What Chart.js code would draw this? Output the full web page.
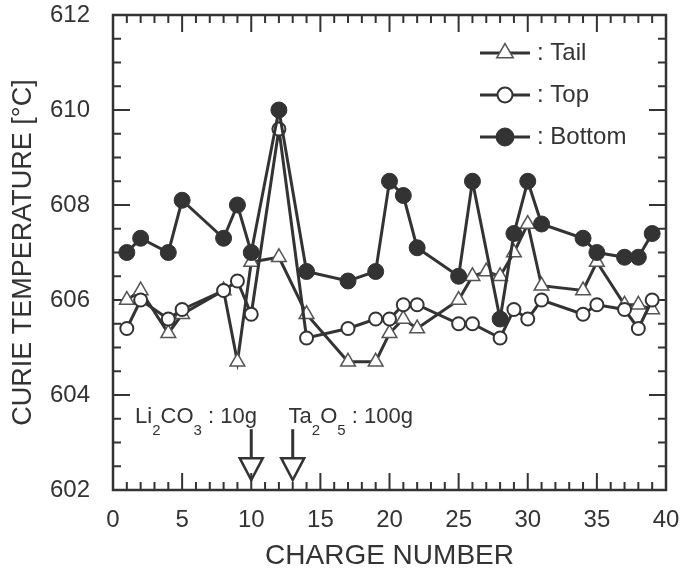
<!DOCTYPE html>
<html>
<head>
<meta charset="utf-8">
<script src="https://cdn.jsdelivr.net/npm/chart.js@4.4.0/dist/chart.umd.min.js"></script>
<style>
  html, body { margin: 0; padding: 0; background: #fff; }
</style>
</head>
<body>
<canvas id="curieChart" width="697" height="571"></canvas>
<script>
// values
const charge = [1, 2, 4, 5, 8, 9, 10, 12, 14, 17, 19, 20, 21, 22, 25, 26, 27, 28, 29, 30, 31, 34, 35, 37, 38, 39];
const tailTemp = [606.0, 606.2, 605.3, 605.7, 606.2, 604.7, 606.8, 606.9, 605.7, 604.7, 604.7, 605.3, 605.6, 605.4, 606.0, 606.5, 606.6, 606.5, 607.0, 607.6, 606.3, 606.2, 606.8, 605.9, 605.9, 605.8];
const topTemp = [605.4, 606.0, 605.6, 605.8, 606.2, 606.4, 605.7, 609.6, 605.2, 605.4, 605.6, 605.6, 605.9, 605.9, 605.5, 605.5, null, 605.2, 605.8, 605.6, 606.0, 605.7, 605.9, 605.8, 605.4, 606.0];
const bottomTemp = [607.0, 607.3, 607.0, 608.1, 607.3, 608.0, 607.0, 610.0, 606.6, 606.4, 606.6, 608.5, 608.2, 607.1, 606.5, 608.5, null, 605.6, 607.4, 608.5, 607.6, 607.3, 607.0, 606.9, 606.9, 607.4];

const xTicks = [0, 5, 10, 15, 20, 25, 30, 35, 40];
const yTicks = [602, 604, 606, 608, 610, 612];

// material added at these charges (text parts: [string, isSubscript])
const additionCharge = [10, 13];
const additionText = [
    [['Li', 0], ['2', 1], ['CO', 0], ['3', 1], [' : 10g', 0]],
    [['Ta', 0], ['2', 1], ['O', 0], ['5', 1], [' : 100g', 0]]
];

const INK = '#333333';
const FONT = "'Liberation Sans', Arial, Helvetica, sans-serif";

function toPoints(ys) {
    return charge.map((c, i) => ({ x: c, y: ys[i] }));
}

// box with inward ticks on all four sides
const framePlugin = {
    id: 'frame',
    beforeDatasetsDraw(chart) {
        const { ctx, chartArea: a, scales: { x, y } } = chart;
        ctx.save();
        ctx.strokeStyle = INK;
        ctx.lineWidth = 2.5;
        ctx.strokeRect(a.left, a.top, a.right - a.left, a.bottom - a.top);
        ctx.lineWidth = 2;
        ctx.beginPath();
        for (let v = 0; v <= 40; v += 1) {
            const px = x.getPixelForValue(v);
            const len = v % 5 === 0 ? 17 : 8;
            ctx.moveTo(px, a.bottom); ctx.lineTo(px, a.bottom - len);
            ctx.moveTo(px, a.top); ctx.lineTo(px, a.top + len);
        }
        for (let v = 602; v <= 612.001; v += 0.5) {
            const py = y.getPixelForValue(v);
            const len = Math.abs(v % 2) < 0.01 ? 17 : 8;
            ctx.moveTo(a.left, py); ctx.lineTo(a.left + len, py);
            ctx.moveTo(a.right, py); ctx.lineTo(a.right - len, py);
        }
        ctx.stroke();
        ctx.restore();
    }
};

// legend in the upper right and the two addition arrows
const notesPlugin = {
    id: 'notes',
    afterDraw(chart) {
        const { ctx, chartArea: a, scales: { x, y } } = chart;
        ctx.save();

        // legend
        const rows = [chart.data.datasets[2], chart.data.datasets[1], chart.data.datasets[0]];
        const rowY = [a.top + 38, a.top + 80, a.top + 122];
        rows.forEach((ds, i) => {
            const cy = rowY[i];
            ctx.strokeStyle = INK;
            ctx.lineWidth = 3;
            ctx.beginPath();
            ctx.moveTo(480, cy); ctx.lineTo(530, cy);
            ctx.stroke();
            ctx.fillStyle = ds.pointBackgroundColor;
            ctx.strokeStyle = ds.pointBorderColor;
            ctx.lineWidth = ds.pointBorderWidth;
            Chart.helpers.drawPoint(ctx, {
                pointStyle: ds.pointStyle,
                radius: ds.pointRadius + 1,
                borderWidth: ds.pointBorderWidth,
                rotation: 0
            }, 505, cy);
            ctx.fillStyle = INK;
            ctx.font = '24px ' + FONT;
            ctx.textBaseline = 'middle';
            ctx.textAlign = 'left';
            ctx.fillText(': ' + ds.label, 537, cy);
        });

        // arrows
        additionCharge.forEach((c) => {
            const px = x.getPixelForValue(c);
            const y0 = y.getPixelForValue(603.28);
            const y1 = y.getPixelForValue(602.67);
            const y2 = y.getPixelForValue(602.21);
            ctx.strokeStyle = INK;
            ctx.lineWidth = 3;
            ctx.beginPath();
            ctx.moveTo(px, y0); ctx.lineTo(px, y1);
            ctx.stroke();
            ctx.lineWidth = 2.5;
            ctx.beginPath();
            ctx.moveTo(px - 11.5, y1);
            ctx.lineTo(px + 11.5, y1);
            ctx.lineTo(px, y2);
            ctx.closePath();
            ctx.stroke();
        });

        // labels with subscripts
        const textStart = [1.6, 12.7];
        const base = y.getPixelForValue(603.41);
        ctx.fillStyle = INK;
        ctx.textBaseline = 'alphabetic';
        ctx.textAlign = 'left';
        additionText.forEach((parts, i) => {
            let cx = x.getPixelForValue(textStart[i]);
            parts.forEach(([s, sub]) => {
                ctx.font = (sub ? '15px ' : '22px ') + FONT;
                ctx.fillText(s, cx, sub ? base + 12 : base);
                cx += ctx.measureText(s).width;
            });
        });

        ctx.restore();
    }
};

const lineStyle = {
    borderColor: INK,
    borderWidth: 3,
    showLine: true,
    spanGaps: true,
    tension: 0
};

new Chart(document.getElementById('curieChart'), {
    type: 'scatter',
    data: {
        datasets: [
            Object.assign({
                label: 'Bottom',
                data: toPoints(bottomTemp),
                pointStyle: 'circle',
                pointRadius: 8,
                pointBackgroundColor: INK,
                pointBorderColor: INK,
                pointBorderWidth: 1
            }, lineStyle),
            Object.assign({
                label: 'Top',
                data: toPoints(topTemp),
                pointStyle: 'circle',
                pointRadius: 6.5,
                pointBackgroundColor: '#ffffff',
                pointBorderColor: INK,
                pointBorderWidth: 2
            }, lineStyle),
            Object.assign({
                label: 'Tail',
                data: toPoints(tailTemp),
                pointStyle: 'triangle',
                pointRadius: 8.5,
                pointBackgroundColor: '#ffffff',
                pointBorderColor: '#555555',
                pointBorderWidth: 1.5
            }, lineStyle)
        ]
    },
    options: {
        responsive: false,
        animation: false,
        devicePixelRatio: 1,
        layout: { padding: { top: 15, right: 31, left: 0, bottom: 0 } },
        plugins: {
            legend: { display: false },
            tooltip: { enabled: false }
        },
        scales: {
            x: {
                type: 'linear',
                min: 0,
                max: 40,
                afterBuildTicks: (scale) => { scale.ticks = xTicks.map(v => ({ value: v })); },
                afterFit: (scale) => {
                    scale.height = 81;
                    scale.paddingLeft = 0;
                    scale.paddingRight = 0;
                },
                grid: { display: false, drawTicks: false },
                border: { display: false },
                ticks: {
                    padding: 16,
                    color: INK,
                    font: { family: FONT, size: 24 },
                    maxRotation: 0
                },
                title: {
                    display: true,
                    text: 'CHARGE NUMBER',
                    color: INK,
                    font: { family: FONT, size: 28, lineHeight: 1 },
                    padding: { top: 0, bottom: 1 }
                }
            },
            y: {
                type: 'linear',
                min: 602,
                max: 612,
                afterBuildTicks: (scale) => { scale.ticks = yTicks.map(v => ({ value: v })); },
                afterFit: (scale) => {
                    scale.width = 113;
                    scale.paddingTop = 0;
                    scale.paddingBottom = 0;
                },
                grid: { display: false, drawTicks: false },
                border: { display: false },
                ticks: {
                    padding: 23,
                    color: INK,
                    font: { family: FONT, size: 24 }
                },
                title: {
                    display: true,
                    text: 'CURIE TEMPERATURE [°C]',
                    color: INK,
                    font: { family: FONT, size: 27, lineHeight: 1 },
                    padding: { top: 10, bottom: 0 }
                }
            }
        }
    },
    plugins: [framePlugin, notesPlugin]
});
</script>
</body>
</html>
